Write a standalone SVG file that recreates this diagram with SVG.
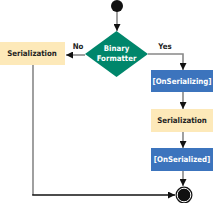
<svg xmlns="http://www.w3.org/2000/svg" width="217" height="203" viewBox="0 0 217 203">
<style>
.t{font-family:"DejaVu Sans Condensed","DejaVu Sans",sans-serif;font-weight:bold;font-size:7.8px;text-anchor:middle;dominant-baseline:central}
.d{fill:#222}
.w{fill:#fff}
.cream{fill:#fde9b9}
.blue{fill:#3c74bd}
.line{stroke:#888;stroke-width:1.6;fill:none}
.blk{stroke:#111;stroke-width:1.3;fill:none}
</style>
<defs>
<marker id="ah" viewBox="0 0 10 10" refX="10" refY="5" markerWidth="7" markerHeight="7" markerUnits="userSpaceOnUse" orient="auto">
<path d="M0,0L10,5L0,10z" fill="#111"/>
</marker>
</defs>
<g id="connectors">
<path class="line" d="M117,11V31" marker-end="url(#ah)"/>
<path class="line" d="M85,55H66" marker-end="url(#ah)"/>
<path class="line" d="M148,54H183V70" marker-end="url(#ah)"/>
<path class="line" d="M183,92V109" marker-end="url(#ah)"/>
<path class="line" d="M183,132V148" marker-end="url(#ah)"/>
<path class="line" d="M183,171V186" marker-end="url(#ah)"/>
<path class="line" d="M33,65V195"/>
<path class="blk" d="M32.2,195H175" marker-end="url(#ah)"/>
<text class="t d" x="78" y="46.5">No</text>
<text class="t d" x="165" y="46.5">Yes</text>
</g>
<g id="start"><circle cx="117" cy="6" r="6" fill="#111"/></g>
<g id="decision">
<path d="M116.5,31L148,54L116.5,77L85,54z" fill="#00866b"/>
<text class="t w" x="116.5" y="48">Binary</text>
<text class="t w" x="116.5" y="58">Formatter</text>
</g>
<g id="serialization-left">
<rect class="cream" x="0" y="42" width="65" height="23"/>
<text class="t d" x="32" y="53.5">Serialization</text>
</g>
<g id="onserializing">
<rect class="blue" x="151" y="70" width="62" height="22"/>
<text class="t w" x="182" y="81">[OnSerializing]</text>
</g>
<g id="serialization-right">
<rect class="cream" x="151" y="109" width="62" height="23"/>
<text class="t d" x="182" y="120.5">Serialization</text>
</g>
<g id="onserialized">
<rect class="blue" x="151" y="148" width="62" height="23"/>
<text class="t w" x="182" y="159.5">[OnSerialized]</text>
</g>
<g id="end">
<circle cx="184" cy="195" r="8.5" fill="#111"/>
<circle cx="184" cy="195" r="6.8" fill="none" stroke="#fff" stroke-width="1"/>
</g>
</svg>
